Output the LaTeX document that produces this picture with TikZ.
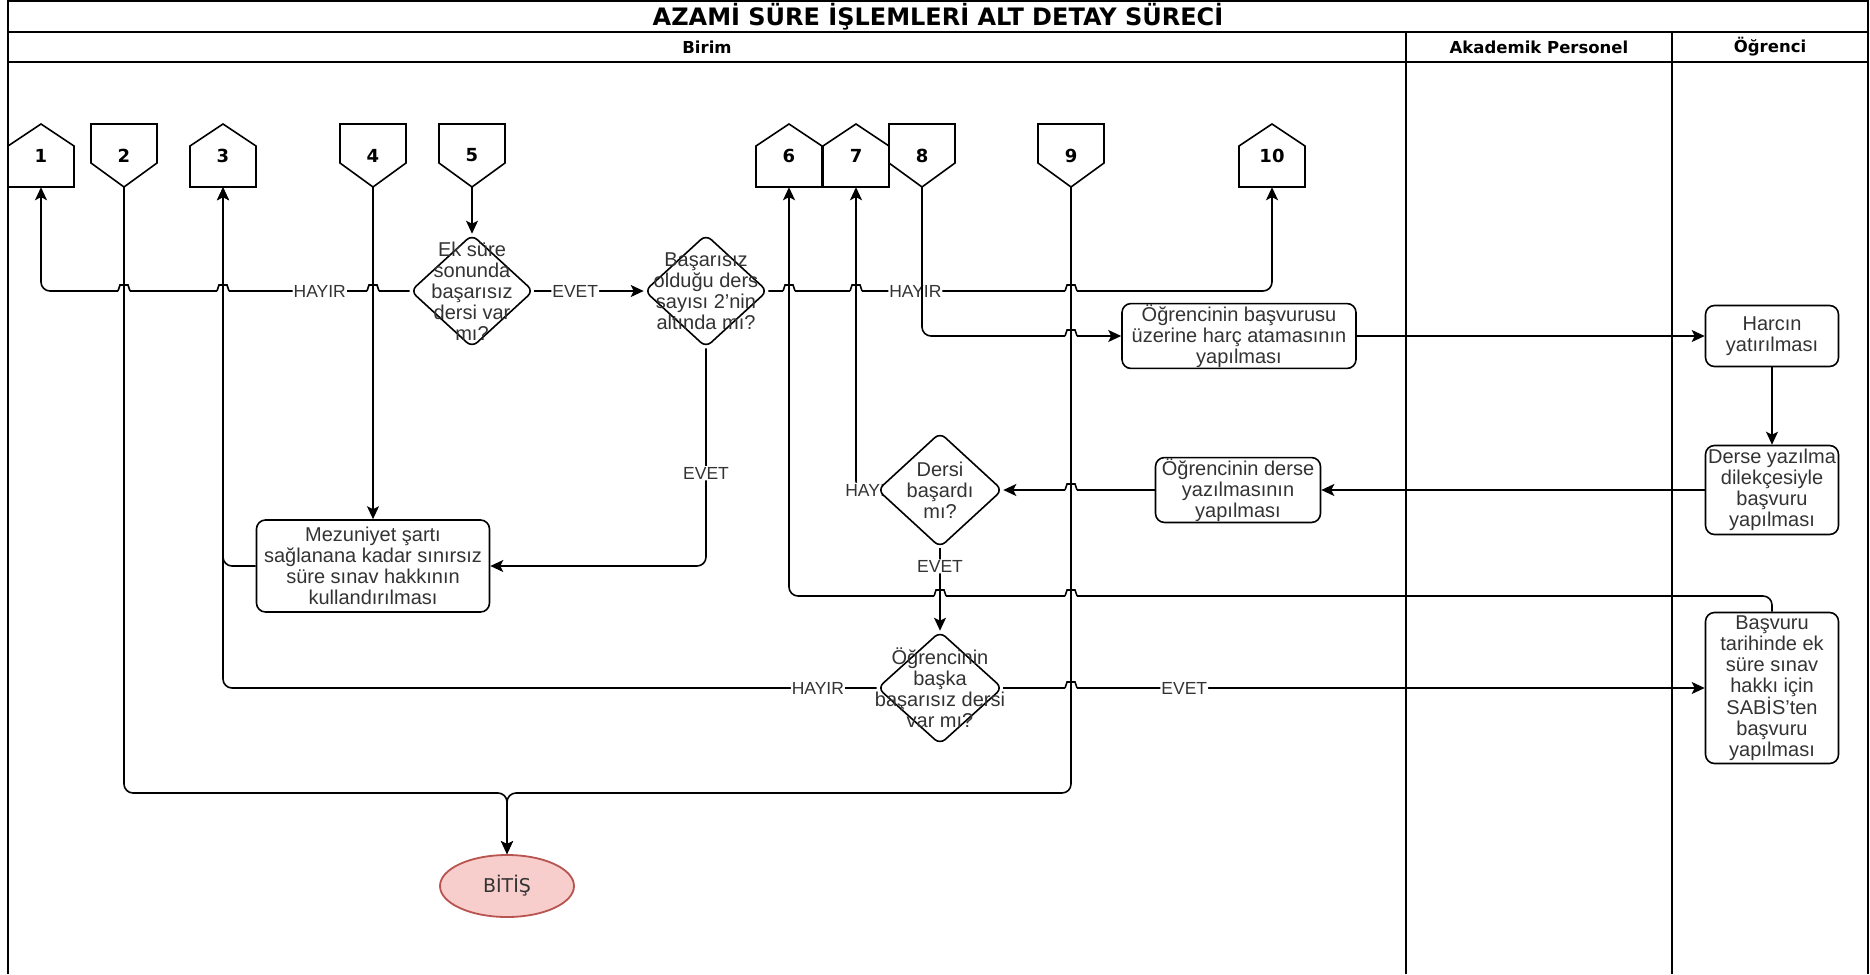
\documentclass[tikz,border=0pt]{standalone}
\usepackage{fontspec}
\setmainfont{Liberation Sans}
\newfontfamily\tahoma{DejaVu Sans}
\usepackage{tikz}
\usetikzlibrary{shapes.geometric, arrows.meta, backgrounds}
\definecolor{bitisdolgu}{HTML}{F8CECC}
\definecolor{bitiscizgi}{HTML}{B85450}
\definecolor{yazi}{HTML}{333333}
\tikzset{
    serit/.style  = {line width=1.8pt, black},
    baslik/.style = {font=\tahoma\bfseries\fontsize{24}{27}\selectfont},
    sutun/.style  = {font=\tahoma\bfseries\fontsize{16.5}{18}\selectfont},
    cizgi/.style  = {line width=1.6pt, black},
    ok/.style     = {cizgi, -{Stealth[length=13pt, width=12pt, inset=3pt]}, rounded corners=9pt},
    etiket/.style = {font=\fontsize{17.5}{19}\selectfont, text=yazi, fill=white, inner sep=1pt},
}
\tikzset{
    kutu/.style   = {draw, line width=1.6pt, fill=white, rounded corners=9pt, align=center,
                     font=\fontsize{20}{21}\selectfont, text=yazi, inner sep=1pt},
    karar/.style  = {diamond, draw, line width=1.6pt, fill=white, rounded corners=7pt, inner sep=0pt},
    kyazi/.style  = {align=center, font=\fontsize{20}{21}\selectfont, text=yazi, inner sep=0pt},
    sayfa/.style  = {draw, line width=1.6pt, fill=white},
    numara/.style = {font=\tahoma\bfseries\fontsize{18}{20}\selectfont, minimum width=66pt,
                     minimum height=63pt, inner sep=0pt},
    son/.style    = {ellipse, draw=bitiscizgi, fill=bitisdolgu, line width=1.8pt,
                     font=\tahoma\fontsize{19}{21}\selectfont, text=yazi,
                     minimum width=134pt, minimum height=62pt},
}
% kesisen cizgilerde kucuk atlama
\newcommand{\atla}[2]{%
    \fill[white] (#1-6,#2-1.8) rectangle (#1+6,#2+1.8);
    \draw[cizgi] (#1,#2-8) -- (#1,#2+8);
    \draw[cizgi] (#1-6,#2) -- (#1-4,#2-6) -- (#1+4,#2-6) -- (#1+6,#2);
}

\begin{document}
\begin{tikzpicture}[x=1pt, y=-1pt]
    \useasboundingbox (0,0) rectangle (1870,974);
    % seritler
    \draw[serit] (8,974) -- (8,1) -- (1868,1) -- (1868,974);
    \draw[serit] (8,32) -- (1868,32);
    \draw[serit] (8,62) -- (1868,62);
    \foreach \x in {1406,1672} \draw[serit] (\x,32) -- (\x,974);
    \node[baslik] (tbaslik) at (938,17) {AZAMİ SÜRE İŞLEMLERİ ALT DETAY SÜRECİ};
    \node[sutun] (birim) at (707,47) {Birim};
    \node[sutun] (akademik) at (1539,47) {Akademik Personel};
    \node[sutun] (ogrenci) at (1770,47) {Öğrenci};

    % sayfa baglantilari
    \foreach \n/\x in {1/41, 3/223, 6/789, 7/856, 10/1272} {
        \draw[sayfa] (\x-33,187) -- (\x-33,146) -- (\x,124) -- (\x+33,146) -- (\x+33,187) -- cycle;
        \node[numara] (s\n) at (\x,155.5) {\n};
    }
    \foreach \n/\x in {2/124, 4/373, 5/472, 8/922, 9/1071} {
        \draw[sayfa] (\x-33,124) -- (\x+33,124) -- (\x+33,163) -- (\x,187) -- (\x-33,163) -- cycle;
        \node[numara] (s\n) at (\x,155.5) {\n};
    }

    % kararlar
    \node[karar, minimum width=123pt, minimum height=113pt,
          label={[kyazi]center:{Ek süre\\sonunda\\başarısız\\dersi var\\mı?}}] (k1) at (472,291) {};
    \node[karar, minimum width=123pt, minimum height=113pt,
          label={[kyazi]center:{Başarısız\\olduğu ders\\sayısı 2'nin\\altında mı?}}] (k2) at (706,291) {};
    \node[karar, minimum width=125pt, minimum height=115pt,
          label={[kyazi]center:{Dersi\\başardı\\mı?}}] (k3) at (940,490) {};
    \node[karar, minimum width=125pt, minimum height=113pt,
          label={[kyazi]center:{Öğrencinin\\başka\\başarısız dersi\\var mı?}}] (k4) at (940,688) {};

    % islemler
    \node[kutu, minimum width=233pt, minimum height=92pt] (mezun) at (373,566)
        {Mezuniyet şartı\\sağlanana kadar sınırsız\\süre sınav hakkının\\kullandırılması};
    \node[kutu, minimum width=234pt, minimum height=61pt] (harc) at (1239,336)
        {Öğrencinin başvurusu\\üzerine harç atamasının\\yapılması};
    \node[kutu, minimum width=165pt, minimum height=61pt] (kayit) at (1238,490)
        {Öğrencinin derse\\yazılmasının\\yapılması};
    \node[kutu, minimum width=133pt, minimum height=61pt] (yatir) at (1772,336)
        {Harcın\\yatırılması};
    \node[kutu, minimum width=133pt, minimum height=89pt] (dilekce) at (1772,490)
        {Derse yazılma\\dilekçesiyle\\başvuru\\yapılması};
    \node[kutu, minimum width=133pt, minimum height=151pt] (basvuru) at (1772,688)
        {Başvuru\\tarihinde ek\\süre sınav\\hakkı için\\SABİS'ten\\başvuru\\yapılması};
    \node[son] (bitis) at (507,886) {BİTİŞ};

    % baglantilar
    \draw[ok] (s5.south) -- (k1.north);
    \draw[ok] (s4.south) -- (mezun.north);
    \draw[ok] (k1.west) -| (s1.south) node[etiket, pos=0.122] (h1) {HAYIR};
    \draw[ok] (k1.east) -- (k2.west) node[etiket, pos=0.374] (e1) {EVET};
    \draw[ok] (k2.east) -| (s10.south) node[etiket, pos=0.146] (h2) {HAYIR};
    \draw[ok] (k2.south) |- (mezun.east) node[etiket, pos=0.287] (e2) {EVET};
    \draw[ok] (s8.south) |- (harc.west);
    \draw[ok] (harc) -- (yatir);
    \draw[ok] (yatir) -- (dilekce);
    \draw[ok] (dilekce) -- (kayit);
    \draw[ok] (kayit) -- (k3);
    \begin{pgfonlayer}{background}
        \draw[ok] (k3.west) -| (s7.south) node[etiket, pos=0.128] (h3) {HAYIR};
    \end{pgfonlayer}
    \draw[ok] (k3) -- (k4) node[etiket, pos=0.22] (e3) {EVET};
    \draw[ok] (k4.west) -| (s3.south) node[etiket, pos=0.045] (h4) {HAYIR};
    \draw[ok] (mezun.west) -| (s3.south);
    \draw[ok] (k4) -- (basvuru) node[etiket, pos=0.258] (e4) {EVET};
    \coordinate (donus) at (789,596);
    \draw[ok] (basvuru.north) |- (donus) -- (s6.south);
    \coordinate (birlesme) at (507,793);
    \draw[ok] (s2.south) |- (birlesme) -- (bitis.north);
    \draw[ok] (s9.south) |- (birlesme) -- (bitis.north);

    \foreach \p/\q in {124/291, 223/291, 373/291, 789/291, 856/291, 1071/291,
                       1071/336, 1071/490, 940/596, 1071/596, 1071/688} \atla{\p}{\q};
\end{tikzpicture}
\end{document}
